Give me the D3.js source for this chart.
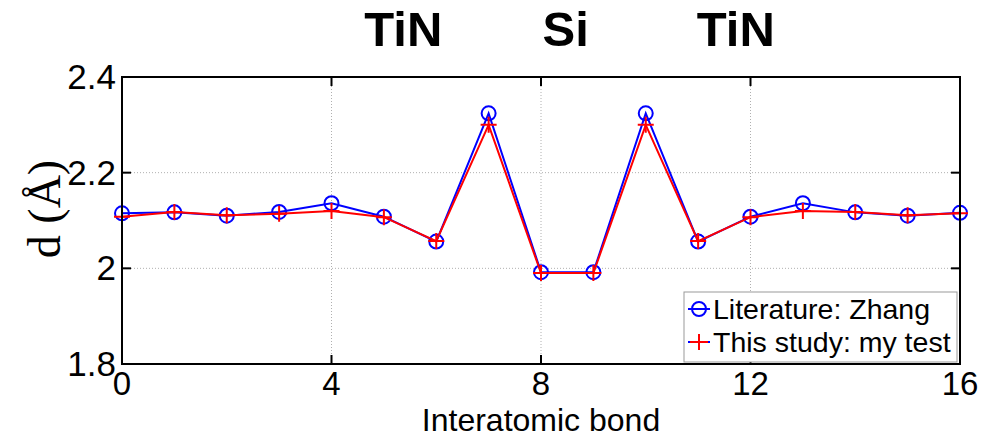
<!DOCTYPE html>
<html>
<head>
<meta charset="utf-8">
<script src="https://cdn.jsdelivr.net/npm/d3@7/dist/d3.min.js"></script>
<style>
  html, body { margin: 0; padding: 0; background: #fff; }
  svg { display: block; }
  .sans { font-family: Arial, "Liberation Sans", Helvetica, sans-serif; }
  .serif { font-family: "Liberation Serif", "Times New Roman", serif; }
</style>
</head>
<body>
<svg id="chart" width="990" height="441"></svg>
<script>
// Bond index along the interface
const bonds = d3.range(0, 17);
// Bond lengths d (Å)
const literatureZhang = [2.115, 2.117, 2.110, 2.118, 2.136, 2.108, 2.056, 2.324, 1.992, 1.992,
                         2.324, 2.056, 2.108, 2.136, 2.117, 2.110, 2.116];
const thisStudy       = [2.108, 2.118, 2.111, 2.114, 2.120, 2.107, 2.057, 2.300, 1.990, 1.990,
                         2.300, 2.057, 2.107, 2.120, 2.118, 2.111, 2.115];
const xTicks = [0, 4, 8, 12, 16];
const yTicks = [1.8, 2.0, 2.2, 2.4];
const yTickLabels = ["1.8", "2", "2.2", "2.4"];
const regionLabels = ["TiN", "Si", "TiN"];
const regionCenters = [5.37, 8.47, 11.72];
const seriesNames = ["Literature: Zhang", "This study: my test"];

const svg = d3.select("#chart");
const L = 122, R = 960, T = 77, B = 364;

const x = d3.scaleLinear().domain([0, 16]).range([L, R]);
const y = d3.scaleLinear().domain([1.8, 2.4]).range([B, T]);

// dotted grid
const grid = svg.append("g").attr("stroke", "#b0b0b0").attr("stroke-width", 1)
  .attr("stroke-dasharray", "1,2");
xTicks.slice(1, -1).forEach(v => grid.append("line")
  .attr("x1", x(v)).attr("x2", x(v)).attr("y1", T).attr("y2", B));
yTicks.slice(1, -1).forEach(v => grid.append("line")
  .attr("x1", L).attr("x2", R).attr("y1", y(v)).attr("y2", y(v)));

// inward ticks on all four sides
const tk = svg.append("g").attr("stroke", "#000").attr("stroke-width", 2);
const tlen = 9;
xTicks.forEach(v => {
  tk.append("line").attr("x1", x(v)).attr("x2", x(v)).attr("y1", B).attr("y2", B - tlen);
  tk.append("line").attr("x1", x(v)).attr("x2", x(v)).attr("y1", T).attr("y2", T + tlen);
});
yTicks.forEach(v => {
  tk.append("line").attr("x1", L).attr("x2", L + tlen).attr("y1", y(v)).attr("y2", y(v));
  tk.append("line").attr("x1", R).attr("x2", R - tlen).attr("y1", y(v)).attr("y2", y(v));
});

// series
const line = d3.line().x((d, i) => x(bonds[i])).y(d => y(d));
const plot = svg.append("g");

plot.append("path").datum(literatureZhang).attr("d", line)
  .attr("fill", "none").attr("stroke", "#0000ff").attr("stroke-width", 2);
plot.append("g").selectAll("circle").data(literatureZhang).join("circle")
  .attr("cx", (d, i) => x(bonds[i])).attr("cy", d => y(d)).attr("r", 7)
  .attr("fill", "none").attr("stroke", "#0000ff").attr("stroke-width", 2);

plot.append("path").datum(thisStudy).attr("d", line)
  .attr("fill", "none").attr("stroke", "#ff0000").attr("stroke-width", 2);
const plusSize = 8;
plot.append("g").selectAll("path").data(thisStudy).join("path")
  .attr("d", (d, i) => {
    const cx = x(bonds[i]), cy = y(d);
    return `M${cx - plusSize},${cy}H${cx + plusSize}M${cx},${cy - plusSize}V${cy + plusSize}`;
  })
  .attr("fill", "none").attr("stroke", "#ff0000").attr("stroke-width", 2);

// frame
svg.append("rect").attr("x", L).attr("y", T).attr("width", R - L).attr("height", B - T)
  .attr("fill", "none").attr("stroke", "#000").attr("stroke-width", 2);

// tick labels
svg.append("g").attr("class", "sans").selectAll("text").data(yTicks).join("text")
  .attr("x", L - 6).attr("y", d => y(d) + 12)
  .attr("text-anchor", "end").attr("font-size", 35)
  .text((d, i) => yTickLabels[i]);
svg.append("g").attr("class", "sans").selectAll("text").data(xTicks).join("text")
  .attr("x", d => x(d)).attr("y", B + 31)
  .attr("text-anchor", "middle").attr("font-size", 33)
  .text(d => d);

// axis titles
svg.append("text").attr("class", "sans")
  .attr("x", (L + R) / 2).attr("y", 431)
  .attr("text-anchor", "middle").attr("font-size", 32)
  .text("Interatomic bond");
svg.append("text").attr("class", "serif")
  .attr("transform", `translate(60,${209}) rotate(-90)`)
  .attr("text-anchor", "middle")
  .attr("font-size", 46)
  .text("d (Å)");

// region labels above the plot
svg.append("g").attr("class", "sans").selectAll("text").data(regionLabels).join("text")
  .attr("x", (d, i) => x(regionCenters[i])).attr("y", 46)
  .attr("text-anchor", "middle").attr("font-size", 49).attr("font-weight", "bold")
  .text(d => d);

// legend
const lg = svg.append("g");
lg.append("rect").attr("x", 684).attr("y", 292).attr("width", 273).attr("height", 70)
  .attr("fill", "#fff").attr("stroke", "#999").attr("stroke-width", 1);
const rows = [{ name: seriesNames[0], color: "#0000ff", mk: "circle", yy: 309 },
              { name: seriesNames[1], color: "#ff0000", mk: "plus", yy: 342 }];
rows.forEach(r => {
  lg.append("line").attr("x1", 688).attr("x2", 710).attr("y1", r.yy).attr("y2", r.yy)
    .attr("stroke", "#0000ff").attr("stroke-width", 2);
  if (r.mk === "circle") {
    lg.append("circle").attr("cx", 699).attr("cy", r.yy).attr("r", 7)
      .attr("fill", "none").attr("stroke", r.color).attr("stroke-width", 2);
  } else {
    lg.append("line").attr("x1", 690).attr("x2", 708).attr("y1", r.yy).attr("y2", r.yy)
      .attr("stroke", r.color).attr("stroke-width", 2);
    lg.append("line").attr("x1", 699).attr("x2", 699).attr("y1", r.yy - 8).attr("y2", r.yy + 8)
      .attr("stroke", r.color).attr("stroke-width", 2);
  }
  lg.append("text").attr("class", "sans").attr("x", 713).attr("y", r.yy + 10)
    .attr("font-size", 28.5).text(r.name);
});
</script>
</body>
</html>
